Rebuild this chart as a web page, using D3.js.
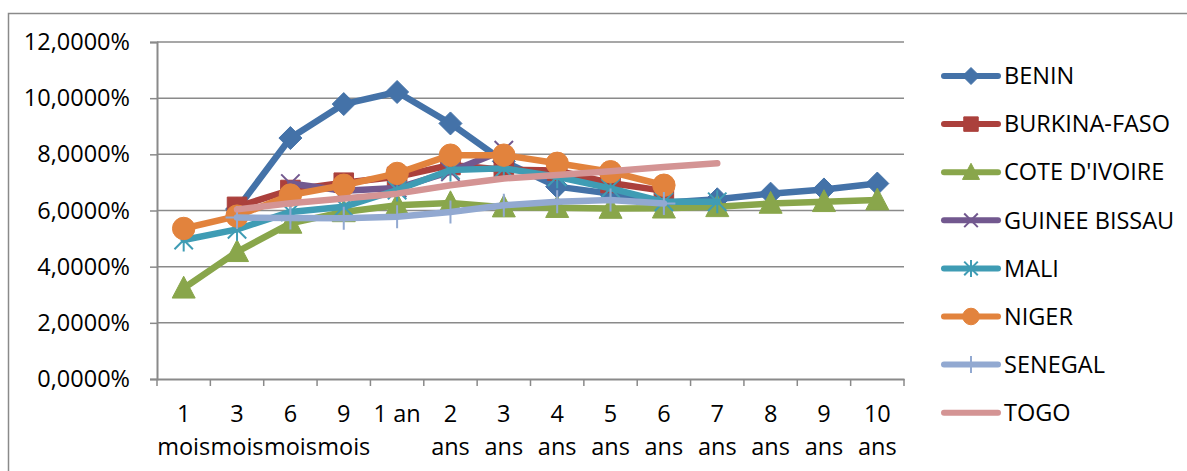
<!DOCTYPE html>
<html>
<head>
<meta charset="utf-8">
<script src="https://cdn.jsdelivr.net/npm/d3@7/dist/d3.min.js"></script>
<style>
  body { margin: 0; background: #fff; }
  svg text { font-family: "Open Sans", sans-serif; fill: #000; }
</style>
</head>
<body>
<div id="chart"></div>
<script>
// categories (maturities) and the two-line tick labels shown under the axis
var categories = ["1 mois", "3 mois", "6 mois", "9 mois", "1 an", "2 ans", "3 ans",
                  "4 ans", "5 ans", "6 ans", "7 ans", "8 ans", "9 ans", "10 ans"];
var tickLines = [["1", "mois"], ["3", "mois"], ["6", "mois"], ["9", "mois"], ["1 an"],
                 ["2", "ans"], ["3", "ans"], ["4", "ans"], ["5", "ans"], ["6", "ans"],
                 ["7", "ans"], ["8", "ans"], ["9", "ans"], ["10", "ans"]];
var yTicks = [0, 2, 4, 6, 8, 10, 12];

// series values in %, null = no data
var benin   = [null, 6.05, 8.58, 9.79, 10.22, 9.1, 7.75, 6.85, 6.6, 6.28, 6.4, 6.6, 6.75, 6.96];
var burkina = [null, 6.13, 6.73, 6.99, 7.2, 7.62, 7.45, 7.42, 6.98, 6.7, null, null, null, null];
var coteIv  = [3.23, 4.53, 5.54, 5.95, 6.19, 6.27, 6.12, 6.1, 6.07, 6.08, 6.13, 6.25, 6.31, 6.37];
var guinee  = [null, null, 6.96, 6.7, 6.8, 7.38, 8.15, null, null, null, null, null, null, null];
var mali    = [4.95, 5.33, 5.95, 6.13, 6.73, 7.44, 7.5, 7.2, 6.79, 6.31, 6.31, null, null, null];
var niger   = [5.36, 5.8, 6.55, 6.9, 7.32, 7.97, 7.97, 7.68, 7.38, 6.9, null, null, null, null];
var senegal = [null, 5.75, 5.73, 5.72, 5.78, 5.95, 6.19, 6.31, 6.37, 6.25, null, null, null, null];
var togo    = [null, 6.04, 6.26, 6.43, 6.6, 6.9, 7.14, 7.26, 7.4, 7.55, 7.68, null, null, null];

var seriesNames  = ["BENIN", "BURKINA-FASO", "COTE D'IVOIRE", "GUINEE BISSAU", "MALI", "NIGER", "SENEGAL", "TOGO"];
var seriesValues = [benin, burkina, coteIv, guinee, mali, niger, senegal, togo];
var seriesColors = ["#4472a8", "#ab403c", "#89a64b", "#72588f", "#3f9cb4", "#e2833d", "#92a9d1", "#d49494"];
var seriesMarkers = ["diamond", "square", "triangle", "x", "asterisk", "circle", "plus", "none"];

var W = 1187, H = 471;
var margin = { left: 157, right: 283, top: 42, bottom: 92 };
var plotW = W - margin.left - margin.right;
var plotH = H - margin.top - margin.bottom;
var fontSize = 23.5;

var fmt = d3.formatLocale({ decimal: ",", thousands: " ", grouping: [3], currency: ["", ""] }).format(".4f");

var svg = d3.select("#chart").append("svg")
    .attr("width", W)
    .attr("height", H);

// outer chart frame
svg.append("rect")
    .attr("x", 8.5).attr("y", 13.5)
    .attr("width", W + 20).attr("height", H + 20)
    .attr("fill", "none")
    .attr("stroke", "#8a8a8a")
    .attr("stroke-width", 1.5);

var g = svg.append("g")
    .attr("transform", "translate(" + margin.left + "," + margin.top + ")");

var xScale = d3.scaleBand()
    .domain(categories)
    .range([0, plotW])
    .padding(0);

var yScale = d3.scaleLinear()
    .domain([0, 12])
    .range([plotH, 0]);

// horizontal gridlines + y axis
var yAxis = d3.axisLeft(yScale)
    .tickValues(yTicks)
    .tickSize(7)
    .tickFormat(function(d) { return fmt(d) + "%"; });

var yg = g.append("g").call(yAxis);
yg.select(".domain").attr("stroke", "#8a8a8a").attr("stroke-width", 2);
yg.selectAll(".tick line").attr("stroke", "#8a8a8a").attr("stroke-width", 1.5);
yg.selectAll(".tick text")
    .attr("x", -27)
    .attr("font-size", fontSize)
    .attr("font-family", "Open Sans, sans-serif")
    .attr("fill", "#000");

g.append("g").selectAll("line")
    .data(yTicks.filter(function(d) { return d > 0; }))
    .enter().append("line")
    .attr("x1", 0).attr("x2", plotW)
    .attr("y1", function(d) { return yScale(d); })
    .attr("y2", function(d) { return yScale(d); })
    .attr("stroke", "#8a8a8a")
    .attr("stroke-width", 1.5);

// x axis: labels centred on categories, ticks at the boundaries
var xAxis = d3.axisBottom(xScale).tickSize(0).tickFormat("");
var xg = g.append("g")
    .attr("transform", "translate(0," + plotH + ")")
    .call(xAxis);
xg.select(".domain").attr("stroke", "#8a8a8a").attr("stroke-width", 2);

xg.selectAll(".tick text").remove();
xg.selectAll(".tick").each(function(d, i) {
    var t = d3.select(this).append("text")
        .attr("text-anchor", "middle")
        .attr("font-size", fontSize)
        .attr("font-family", "Open Sans, sans-serif")
        .attr("fill", "#000");
    tickLines[i].forEach(function(line, k) {
        t.append("tspan")
            .attr("x", 0)
            .attr("y", 43 + k * 33)
            .text(line);
    });
});

g.append("g").selectAll("line")
    .data(categories.concat(["end"]))
    .enter().append("line")
    .attr("x1", function(d, i) { return i * xScale.bandwidth(); })
    .attr("x2", function(d, i) { return i * xScale.bandwidth(); })
    .attr("y1", plotH)
    .attr("y2", plotH + 7)
    .attr("stroke", "#8a8a8a")
    .attr("stroke-width", 1.5);

// marker shapes
function markerPath(type, s) {
    switch (type) {
        case "diamond":  return "M0," + (-s) + "L" + s + ",0L0," + s + "L" + (-s) + ",0Z";
        case "square":   return "M" + (-s * 0.85) + "," + (-s * 0.85) + "h" + (s * 1.7) + "v" + (s * 1.7) + "h" + (-s * 1.7) + "Z";
        case "triangle": return "M0," + (-s * 1.05) + "L" + s + "," + (s * 0.85) + "L" + (-s) + "," + (s * 0.85) + "Z";
        case "circle":   return d3.symbol(d3.symbolCircle, Math.PI * s * s * 0.95)();
        case "x":        var a = s * 0.8; return "M" + (-a) + "," + (-a) + "L" + a + "," + a + "M" + (-a) + "," + a + "L" + a + "," + (-a);
        case "asterisk": var b = s * 0.8; return "M" + (-b) + "," + (-b) + "L" + b + "," + b + "M" + (-b) + "," + b + "L" + b + "," + (-b) + "M0," + (-s) + "V" + s;
        case "plus":     return "M0," + (-s) + "V" + s + "M" + (-s) + ",0H" + s;
    }
    return "";
}
function isStroked(type) { return type === "x" || type === "asterisk" || type === "plus"; }

var line = d3.line()
    .defined(function(d) { return d != null; })
    .x(function(d, i) { return xScale(categories[i]) + xScale.bandwidth() / 2; })
    .y(function(d) { return yScale(d); });

seriesValues.forEach(function(vals, si) {
    var col = seriesColors[si];
    var mk = seriesMarkers[si];
    var sg = g.append("g");
    sg.append("path")
        .datum(vals)
        .attr("d", line)
        .attr("fill", "none")
        .attr("stroke", col)
        .attr("stroke-width", 6.5)
        .attr("stroke-linejoin", "round")
        .attr("stroke-linecap", "round");
    if (mk === "none") return;
    sg.selectAll("path.mk")
        .data(vals.map(function(v, i) { return { v: v, i: i }; }).filter(function(p) { return p.v != null; }))
        .enter().append("path")
        .attr("class", "mk")
        .attr("transform", function(p) {
            return "translate(" + (xScale(categories[p.i]) + xScale.bandwidth() / 2) + "," + yScale(p.v) + ")";
        })
        .attr("d", markerPath(mk, 11.5))
        .attr("fill", isStroked(mk) ? "none" : col)
        .attr("stroke", col)
        .attr("stroke-width", isStroked(mk) ? 2 : 1);
});

// legend
var legend = svg.append("g").attr("transform", "translate(944,76)");
seriesNames.forEach(function(name, si) {
    var row = legend.append("g").attr("transform", "translate(0," + (si * 48.1) + ")");
    row.append("line")
        .attr("x1", 0).attr("x2", 54)
        .attr("stroke", seriesColors[si])
        .attr("stroke-width", 6)
        .attr("stroke-linecap", "round");
    var mk = seriesMarkers[si];
    if (mk !== "none") {
        row.append("path")
            .attr("transform", "translate(27,0)")
            .attr("d", markerPath(mk, 8.5))
            .attr("fill", isStroked(mk) ? "none" : seriesColors[si])
            .attr("stroke", seriesColors[si])
            .attr("stroke-width", isStroked(mk) ? 2 : 1);
    }
    row.append("text")
        .attr("x", 60)
        .attr("dy", "0.35em")
        .attr("font-size", fontSize)
        .text(name);
});
</script>
</body>
</html>
